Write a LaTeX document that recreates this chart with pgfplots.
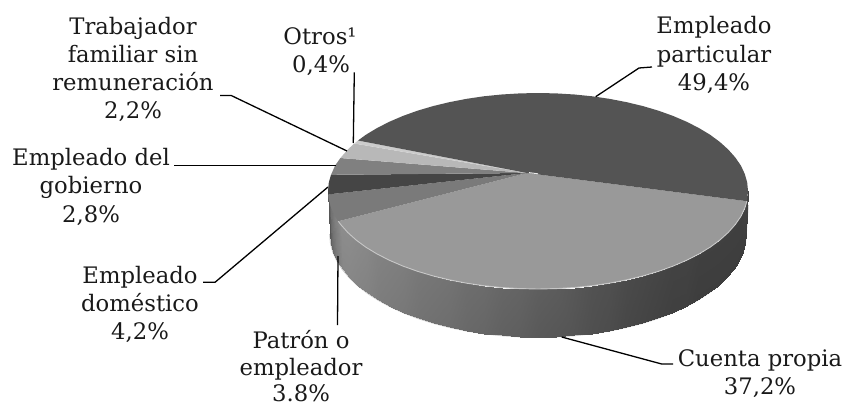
\documentclass[border=0pt]{standalone}
\usepackage{fontspec}
\setmainfont{DejaVu Serif}
\usepackage{pgfplots}
\pgfplotsset{compat=1.18}

% slice outlines, pixel coordinates of the picture
\pgfplotstableread{
x y c
748.0 191.0 0.26
747.2 199.5 0.26
744.8 208.0 0.26
740.9 216.4 0.25
735.3 224.5 0.25
728.3 232.4 0.25
719.9 240.0 0.25
710.0 247.3 0.25
698.9 254.0 0.25
686.5 260.3 0.26
673.0 266.1 0.26
658.5 271.3 0.27
643.0 275.9 0.28
626.8 279.8 0.29
609.8 283.1 0.31
592.4 285.7 0.32
574.5 287.5 0.34
556.3 288.6 0.36
538.0 289.0 0.37
519.7 288.6 0.39
501.5 287.5 0.40
483.6 285.7 0.42
466.2 283.1 0.43
449.2 279.8 0.45
433.0 275.9 0.46
417.5 271.3 0.47
403.0 266.1 0.49
389.5 260.3 0.50
377.1 254.0 0.51
366.0 247.3 0.53
356.1 240.0 0.54
347.7 232.4 0.55
340.7 224.5 0.55
335.1 216.4 0.50
331.2 208.0 0.45
328.8 199.5 0.40
328.0 191.0 0.35
746.0 234.0 0.24
745.2 243.0 0.24
742.9 251.9 0.24
738.9 260.7 0.24
733.5 269.2 0.24
726.4 277.6 0.24
718.1 285.5 0.24
708.4 293.1 0.24
697.3 300.2 0.24
685.1 306.8 0.25
671.7 312.9 0.25
657.4 318.4 0.26
642.0 323.2 0.27
626.0 327.3 0.28
609.1 330.8 0.30
591.9 333.5 0.31
574.2 335.4 0.33
556.1 336.6 0.34
538.0 337.0 0.35
519.9 336.6 0.37
501.8 335.4 0.38
484.1 333.5 0.40
466.9 330.8 0.41
450.0 327.3 0.43
434.0 323.2 0.44
418.6 318.4 0.45
404.3 312.9 0.47
390.9 306.8 0.48
378.7 300.2 0.49
367.6 293.1 0.51
357.9 285.5 0.52
349.6 277.6 0.53
342.5 269.2 0.53
337.1 260.7 0.48
333.1 251.9 0.43
330.8 243.0 0.38
330.0 234.0 0.33
}\sidetable

\newcommand{\lab}[3]{\node[anchor=base,inner sep=0pt,text=black!90] at (axis cs:#1,#2) {#3};}

\begin{document}
\begin{tikzpicture}
\path[use as bounding box] (0,0) rectangle (846bp,405bp);
\begin{axis}[
    at={(0,0)},anchor=south west,
    width=846bp,height=405bp,scale only axis,
    xmin=0,xmax=846,ymin=0,ymax=405,y dir=reverse,
    hide axis,clip=false,
    colormap={g}{gray(0cm)=(0); gray(1cm)=(1)},
    point meta min=0,point meta max=1,
    font=\fontsize{22.8}{28}\selectfont,
]
% soft edge under the wall
\addplot[draw=black!35,line width=1.6pt,opacity=0.6] coordinates {(748,205) (746.0,234.0) (745.2,243.0) (742.9,251.9) (738.9,260.7) (733.5,269.2) (726.4,277.6) (718.1,285.5) (708.4,293.1) (697.3,300.2) (685.1,306.8) (671.7,312.9) (657.4,318.4) (642.0,323.2) (626.0,327.3) (609.1,330.8) (591.9,333.5) (574.2,335.4) (556.1,336.6) (538.0,337.0) (519.9,336.6) (501.8,335.4) (484.1,333.5) (466.9,330.8) (450.0,327.3) (434.0,323.2) (418.6,318.4) (404.3,312.9) (390.9,306.8) (378.7,300.2) (367.6,293.1) (357.9,285.5) (349.6,277.6) (342.5,269.2) (337.1,260.7) (333.1,251.9) (330.8,243.0) (330.0,234.0)};
% side wall
\addplot[surf,shader=interp,mesh/cols=37,point meta=explicit] table[x=x,y=y,meta=c] {\sidetable};

% Cuenta propia
\addplot[fill=black!40,draw=none] coordinates {(527,173) (746.9,201.2) (744.8,208.0) (740.9,216.4) (735.3,224.5) (728.3,232.4) (719.9,240.0) (710.0,247.3) (698.9,254.0) (686.5,260.3) (673.0,266.1) (658.5,271.3) (643.0,275.9) (626.8,279.8) (609.8,283.1) (592.4,285.7) (574.5,287.5) (556.3,288.6) (538.0,289.0) (519.7,288.6) (501.5,287.5) (483.6,285.7) (466.2,283.1) (449.2,279.8) (433.0,275.9) (417.5,271.3) (403.0,266.1) (389.5,260.3) (377.1,254.0) (366.0,247.3) (356.1,240.0) (347.7,232.4) (340.7,224.5) (338.3,221.3)} -- cycle;
% Patron o empleador
\addplot[fill=black!52,draw=none] coordinates {(527,173) (338.3,221.3) (335.1,216.4) (331.2,208.0) (328.8,199.5) (328.1,194.4)} -- cycle;
% Empleado domestico
\addplot[fill=black!73,draw=none] coordinates {(527,173) (328.1,194.4) (328.0,191.0) (328.8,182.5) (331.0,174.8)} -- cycle;
% Empleado del gobierno
\addplot[fill=black!50,draw=none] coordinates {(527,173) (331.0,174.8) (335.1,165.6) (340.4,158.0)} -- cycle;
% Trabajador familiar
\addplot[fill=black!28,draw=none] coordinates {(527,173) (340.4,158.0) (347.7,149.6) (354.3,143.5)} -- cycle;
% Otros
\addplot[fill=black!20,draw=none] coordinates {(527,173) (354.3,143.5) (358.0,140.5)} -- cycle;
% Empleado particular
\addplot[fill=black!67,draw=none] coordinates {(527,173) (358.0,140.5) (366.0,134.7) (377.1,128.0) (389.5,121.7) (403.0,115.9) (417.5,110.7) (433.0,106.1) (449.2,102.2) (466.2,98.9) (483.6,96.3) (501.5,94.5) (519.7,93.4) (538.0,93.0) (556.3,93.4) (574.5,94.5) (592.4,96.3) (609.8,98.9) (626.8,102.2) (643.0,106.1) (658.5,110.7) (673.0,115.9) (686.5,121.7) (698.9,128.0) (710.0,134.7) (719.9,142.0) (728.3,149.6) (735.3,157.5) (740.9,165.6) (744.8,174.0) (747.2,182.5) (748.0,191.0) (747.2,199.5) (746.9,201.2)} -- cycle;
% pale rim of the front slice
\addplot[draw=black!22,line width=0.9pt] coordinates {(746.9,201.2) (744.8,208.0) (740.9,216.4) (735.3,224.5) (728.3,232.4) (719.9,240.0) (710.0,247.3) (698.9,254.0) (686.5,260.3) (673.0,266.1) (658.5,271.3) (643.0,275.9) (626.8,279.8) (609.8,283.1) (592.4,285.7) (574.5,287.5) (556.3,288.6) (538.0,289.0) (519.7,288.6) (501.5,287.5) (483.6,285.7) (466.2,283.1) (449.2,279.8) (433.0,275.9) (417.5,271.3) (403.0,266.1) (389.5,260.3) (377.1,254.0) (366.0,247.3) (356.1,240.0) (347.7,232.4) (340.7,224.5) (338.3,221.3)};
% bright spot at the apex
\addplot[draw=black!8,line width=0.9pt] coordinates {(529,172.6) (538,173.8)};

% leader lines
\addplot[black,line width=1.3pt] coordinates {(354.3,72.3) (353.3,143)};
\addplot[black,line width=1.3pt] coordinates {(220,95.4) (231,95.4) (347,151)};
\addplot[black,line width=1.3pt] coordinates {(174,165.3) (336,165.3)};
\addplot[black,line width=1.3pt] coordinates {(203,282.3) (215,282.3) (328,187)};
\addplot[black,line width=1.3pt] coordinates {(337.5,325) (338,256)};
\addplot[black,line width=1.3pt] coordinates {(595.7,96.7) (639,68) (652,67)};
\addplot[black,line width=1.3pt] coordinates {(561.7,337) (661.7,364) (673,364)};

% labels
\lab{133}{34}{Trabajador}
\lab{133}{62}{familiar sin}
\lab{133}{90}{remuneración}
\lab{133}{118}{2,2\%}
\lab{320}{44}{Otros¹}
\lab{321}{72.7}{0,4\%}
\lab{91}{165.7}{Empleado del}
\lab{91}{193.5}{gobierno}
\lab{91}{222}{2,8\%}
\lab{140}{283}{Empleado}
\lab{140}{311.7}{doméstico}
\lab{140}{339}{4,2\%}
\lab{301}{348}{Patrón o}
\lab{301}{375}{empleador}
\lab{301}{401}{3.8\%}
\lab{714}{33}{Empleado}
\lab{714}{62}{particular}
\lab{714}{90}{49,4\%}
\lab{760}{366}{Cuenta propia}
\lab{760}{394}{37,2\%}
\end{axis}
\end{tikzpicture}
\end{document}
